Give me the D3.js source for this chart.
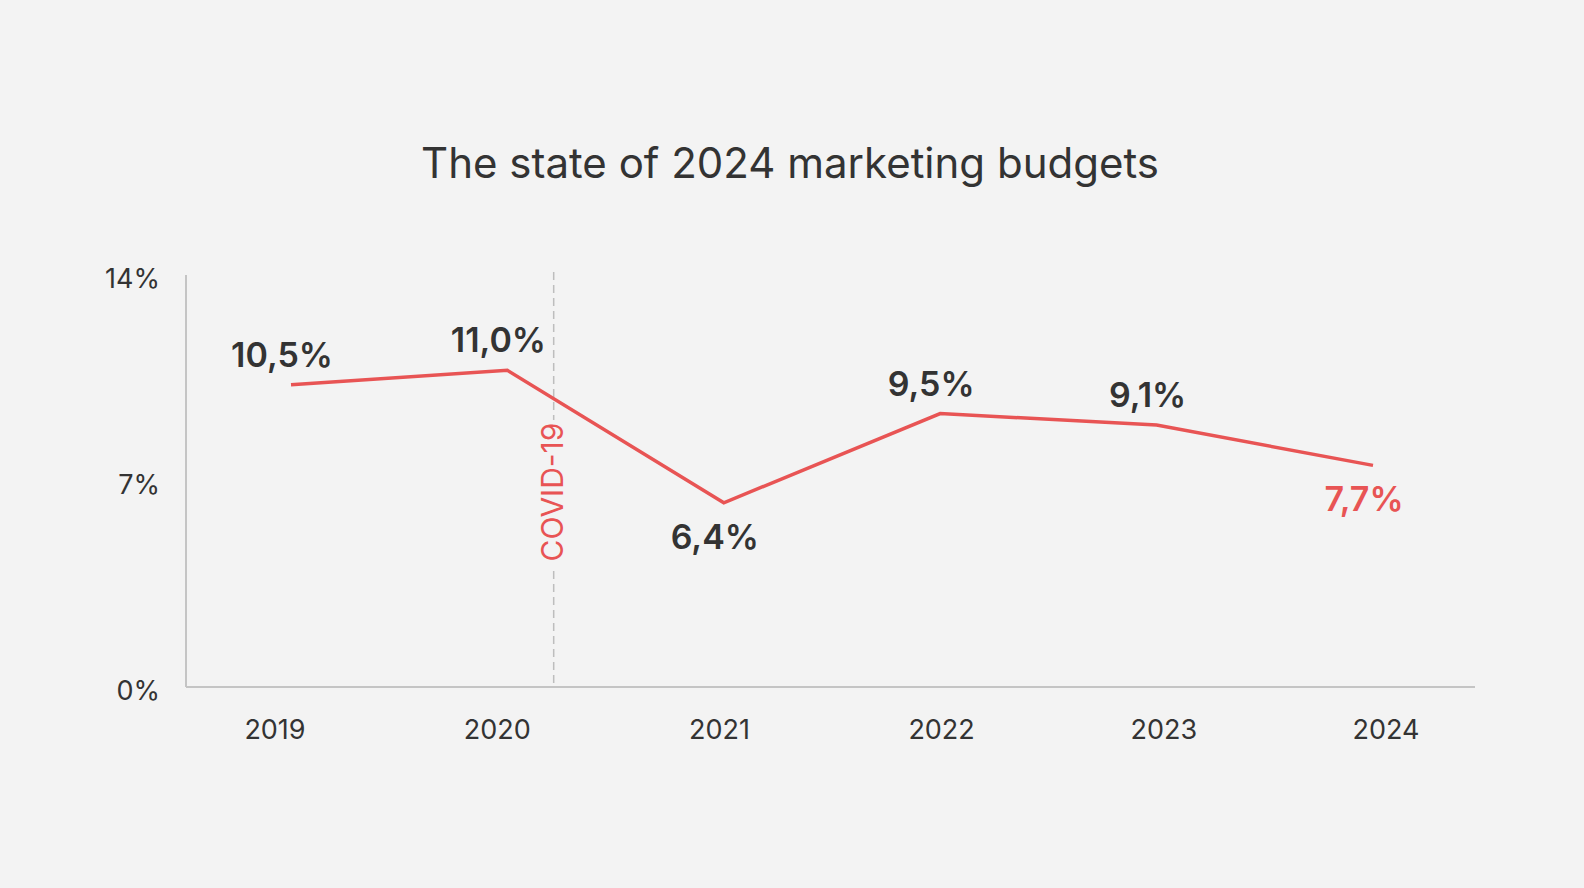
<!DOCTYPE html>
<html>
<head>
<meta charset="utf-8">
<script src="https://cdn.jsdelivr.net/npm/d3@7"></script>
<style>
  html, body { margin: 0; padding: 0; background: #f3f3f3; }
  svg { display: block; }
  text { font-family: Inter, "Noto Sans", sans-serif; }
</style>
</head>
<body>
<svg id="chart" width="1584" height="888"></svg>
<script>
let years = ["2019", "2020", "2021", "2022", "2023", "2024"]
let budgetShare = [10.5, 11.0, 6.4, 9.5, 9.1, 7.7]
let valueLabels = ["10,5%", "11,0%", "6,4%", "9,5%", "9,1%", "7,7%"]
let labelSide = ["above", "above", "below", "above", "above", "below"]
let yTicks = [0, 7, 14]
let yTickLabels = ["0%", "7%", "14%"]
let covidMark = 2020.2

const red = "#e85454"
const dark = "#333333"
const bg = "#f3f3f3"

let svg = d3.select("#chart")

svg.append("rect")
    .attr("width", 1584)
    .attr("height", 888)
    .attr("fill", bg)

// title
svg.append("text")
    .attr("x", 790)
    .attr("y", 178)
    .attr("text-anchor", "middle")
    .attr("font-size", 42)
    .attr("fill", dark)
    .text("The state of 2024 marketing budgets")

let y = d3.scaleLinear().domain([0, 14]).range([687, 284])
// tick labels sit a little off the value scale in the original
let yLabel = d3.scaleLinear().domain([0, 14]).range([690, 278])
let xLine = d3.scalePoint().domain(years).range([291, 1373])
let xAxisLabels = d3.scalePoint().domain(years).range([275, 1386])
let xYear = d3.scaleLinear().domain([2019, 2024]).range([291, 1373])

// axes lines
svg.append("line")
    .attr("x1", 186).attr("x2", 186)
    .attr("y1", 275).attr("y2", y(0))
    .attr("stroke", "#c4c4c4")
    .attr("stroke-width", 2)
svg.append("line")
    .attr("x1", 186).attr("x2", 1475)
    .attr("y1", y(0)).attr("y2", y(0))
    .attr("stroke", "#c4c4c4")
    .attr("stroke-width", 2)

svg.selectAll(".ytick")
    .data(yTicks)
    .enter()
    .append("text")
    .attr("class", "ytick")
    .attr("x", 160)
    .attr("y", (d) => yLabel(d) + 10)
    .attr("text-anchor", "end")
    .attr("font-size", 27)
    .attr("fill", dark)
    .text((d, i) => yTickLabels[i])

svg.selectAll(".xtick")
    .data(years)
    .enter()
    .append("text")
    .attr("class", "xtick")
    .attr("x", (d) => xAxisLabels(d))
    .attr("y", 739)
    .attr("text-anchor", "middle")
    .attr("font-size", 27)
    .attr("fill", dark)
    .text((d) => d)

// covid marker
let cx = xYear(covidMark) + 3
svg.append("line")
    .attr("x1", cx).attr("x2", cx)
    .attr("y1", 272).attr("y2", y(0))
    .attr("stroke", "#bdbdbd")
    .attr("stroke-width", 1.5)
    .attr("stroke-dasharray", "8,5")
svg.append("rect")
    .attr("x", cx - 16)
    .attr("y", 420)
    .attr("width", 28)
    .attr("height", 146)
    .attr("fill", bg)
svg.append("text")
    .attr("transform", `translate(${cx + 9},492) rotate(-90)`)
    .attr("text-anchor", "middle")
    .attr("font-size", 30)
    .attr("fill", red)
    .text("COVID-19")

// line
let points = years.map((d, i) => [xLine(d), y(budgetShare[i])])
svg.append("path")
    .attr("d", d3.line()(points))
    .attr("fill", "none")
    .attr("stroke", red)
    .attr("stroke-width", 3.5)

svg.selectAll(".vlabel")
    .data(years)
    .enter()
    .append("text")
    .attr("class", "vlabel")
    .attr("x", (d) => xLine(d) - 9)
    .attr("y", (d, i) => y(budgetShare[i]) + (labelSide[i] === "above" ? -18 : 46))
    .attr("text-anchor", "middle")
    .attr("font-size", 34)
    .attr("font-weight", 600)
    .attr("fill", (d, i) => i === years.length - 1 ? red : dark)
    .text((d, i) => valueLabels[i])
</script>
</body>
</html>
